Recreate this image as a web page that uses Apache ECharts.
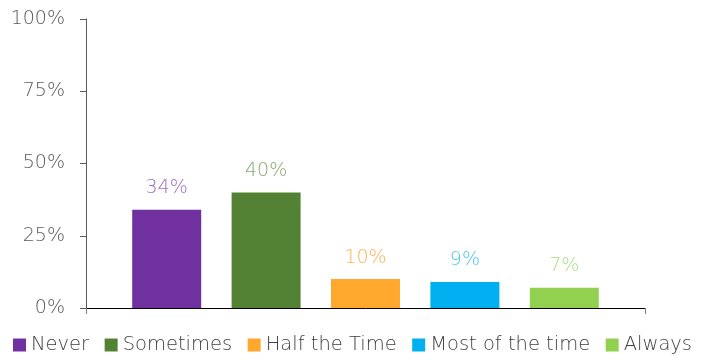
<!DOCTYPE html>
<html><head><meta charset="utf-8">
<script src="https://cdn.jsdelivr.net/npm/echarts@6/dist/echarts.min.js"></script>
<style>html,body{margin:0;padding:0;background:#fff}#c{width:708px;height:355px}</style>
</head><body><div id="c"></div>
<script>
var categories = ['Never', 'Sometimes', 'Half the Time', 'Most of the time', 'Always'];
var values = [34, 40, 10, 9, 7];
var barColors = ['#7030A0', '#548235', '#FFA82D', '#00B0F0', '#92D050'];
var labelColors = ['#9C6CC6', '#86A874', '#FBB256', '#4CC6F4', '#AEDB84'];
var yTicks = [0, 25, 50, 75, 100];

var FONT = "'DejaVu Sans', sans-serif";
var FW = 200;
var series = categories.map(function (name, i) {
  var d = categories.map(function (c, j) { return j === i ? values[i] : '-'; });
  return {
    name: name,
    type: 'bar',
    xAxisIndex: 0, yAxisIndex: 0,
    stack: 'all',
    barWidth: 69,
    data: d,
    itemStyle: { color: barColors[i] },
    label: {
      show: true, position: 'top', distance: 12,
      formatter: '{c}%',
      color: labelColors[i], fontSize: 19, fontFamily: FONT, fontWeight: FW
    }
  };
});

var chart = echarts.init(document.getElementById('c'));
chart.setOption({
  animation: false,
  grid: [
    { left: 117, right: 94, top: 19, bottom: 47 },
    { left: 86, right: 63, top: 19, bottom: 47 }
  ],
  legend: {
    left: 8, top: 330,
    itemWidth: 13, itemHeight: 13, itemGap: 15.5,
    icon: 'rect',
    textStyle: { color: '#404040', fontSize: 19.5, fontFamily: FONT, fontWeight: FW },
    data: categories
  },
  xAxis: [
    {
      type: 'category', gridIndex: 0, data: categories,
      axisLine: { show: false }, axisTick: { show: false }, axisLabel: { show: false }
    },
    {
      type: 'value', gridIndex: 1, min: 0, max: 1,
      axisLine: { show: true, onZero: false, lineStyle: { color: '#000', width: 1 } },
      axisTick: { show: true, length: 6, customValues: [0, 1], lineStyle: { color: '#7f7f7f' } },
      axisLabel: { show: false },
      splitLine: { show: false }
    }
  ],
  yAxis: [
    {
      type: 'value', gridIndex: 0, min: 0, max: 100, interval: 25,
      axisLine: { show: false }, axisTick: { show: false }, axisLabel: { show: false }, splitLine: { show: false }
    },
    {
      type: 'value', gridIndex: 1, min: 0, max: 100, interval: 25,
      axisLine: { show: true, onZero: false, lineStyle: { color: '#595959', width: 1 } },
      axisTick: { show: true, inside: false, length: 6, lineStyle: { color: '#595959' } },
      axisLabel: { formatter: '{value}%', margin: 21, color: '#595959', fontSize: 19, fontFamily: FONT, fontWeight: FW },
      splitLine: { show: false }
    }
  ],
  series: series
});
</script></body></html>
